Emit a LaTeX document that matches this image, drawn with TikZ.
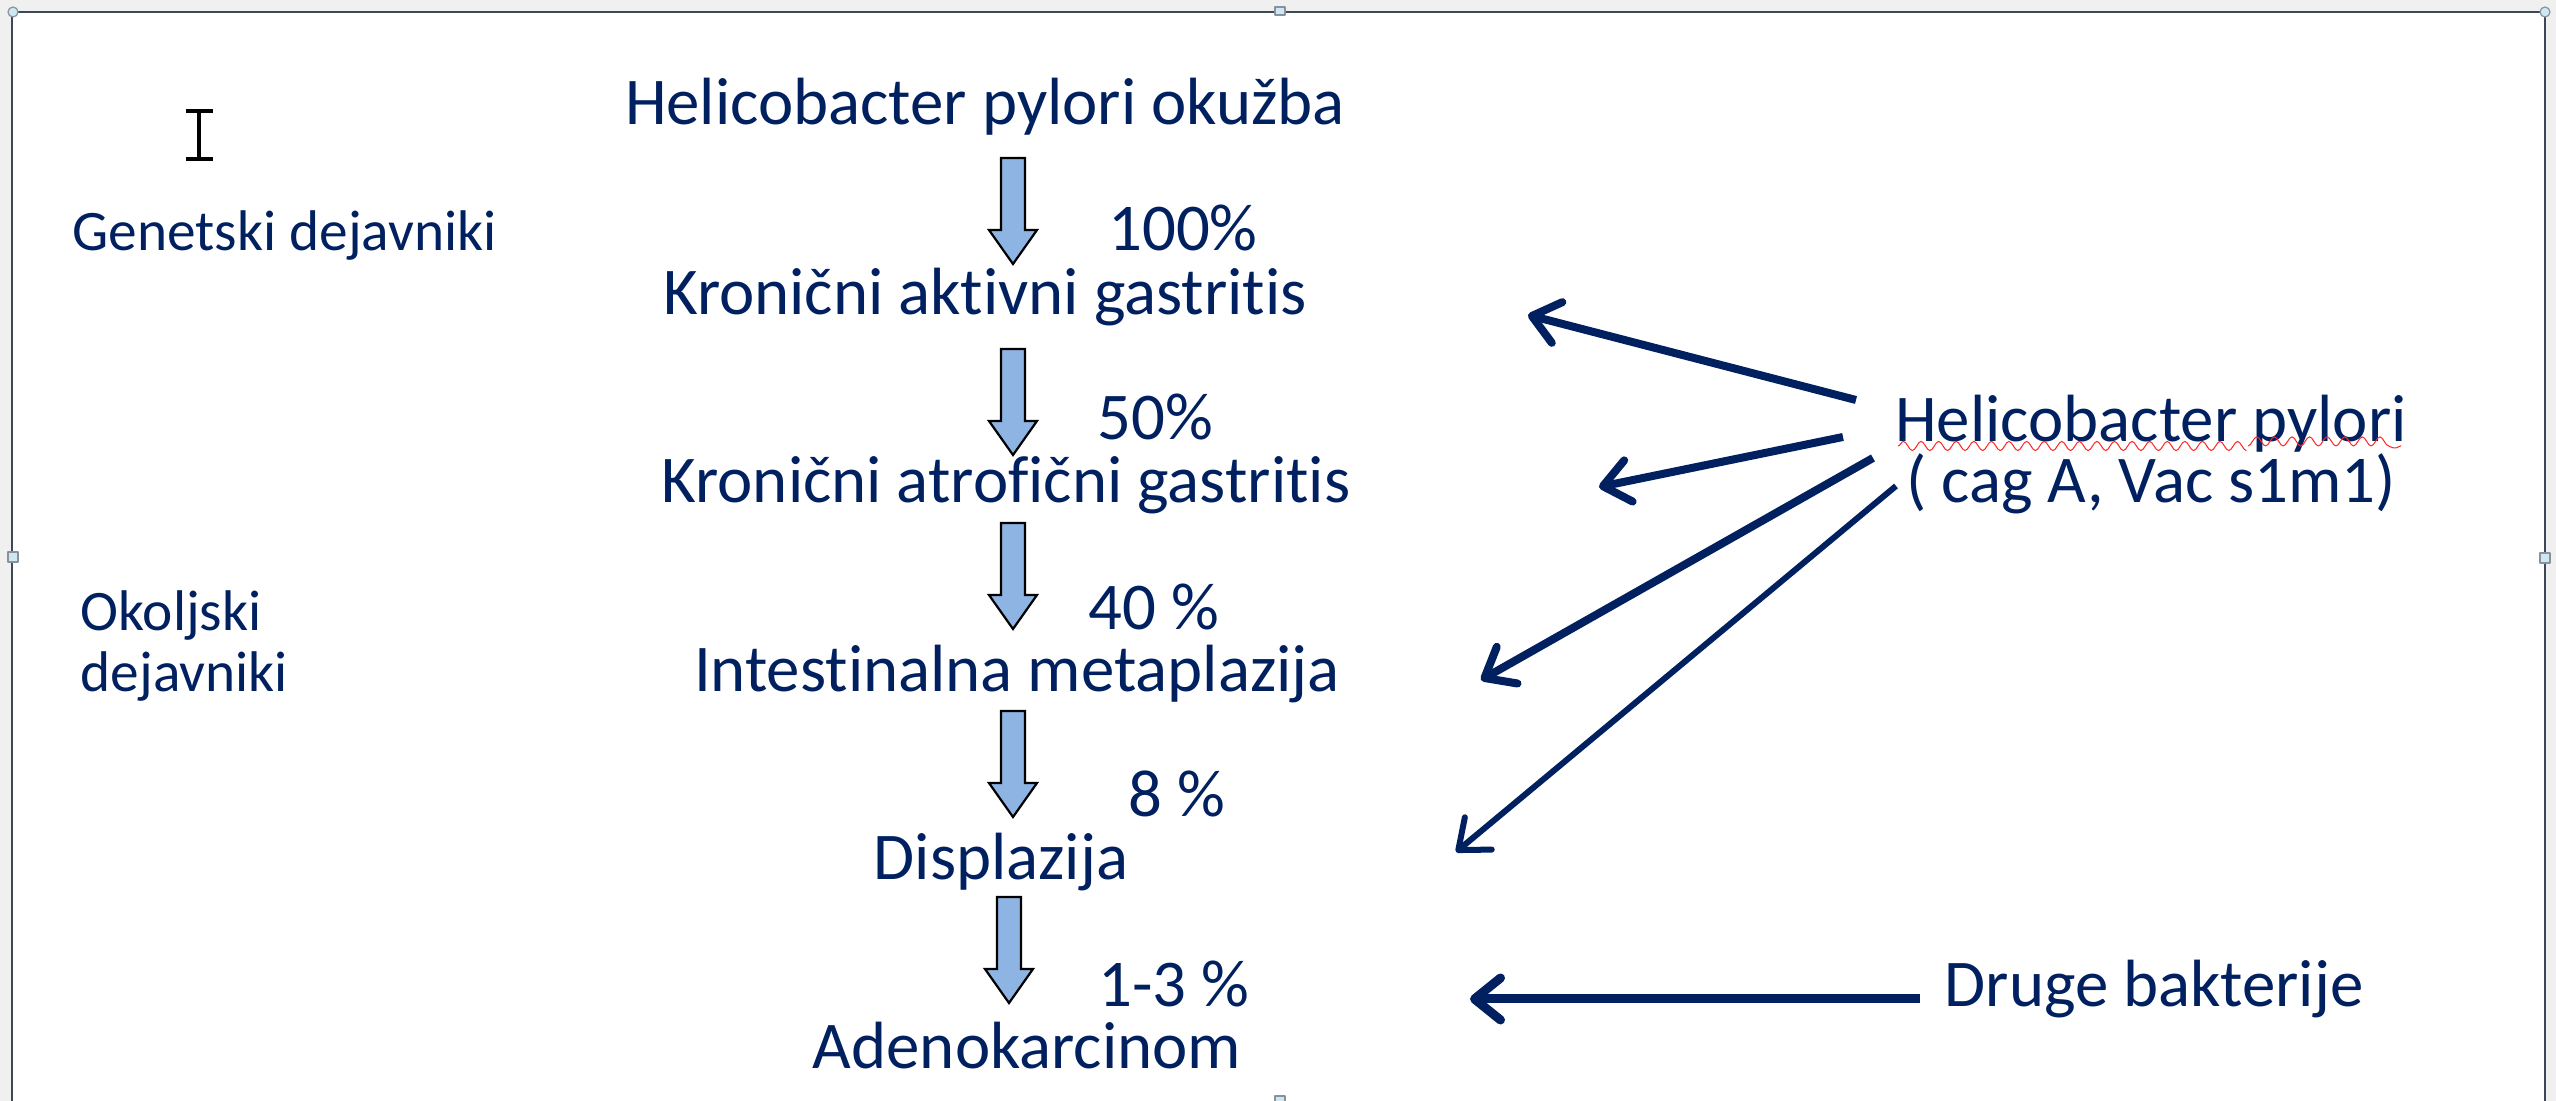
\documentclass[tikz,border=0pt]{standalone}
\usepackage{fontspec}
\setmainfont{Carlito}[Ligatures={NoCommon,NoContextual}]
\usetikzlibrary{arrows.meta,decorations.pathmorphing}

\definecolor{navy}{RGB}{0,32,96}
\definecolor{arrowfill}{RGB}{141,180,226}
\definecolor{winbg}{RGB}{240,240,240}
\definecolor{framecol}{RGB}{60,72,88}
\definecolor{handlecol}{RGB}{205,232,242}

\begin{document}
\begin{tikzpicture}[x=0.01cm,y=-0.01cm,line join=round,
  stage/.style={text=navy,font=\fontsize{19}{17.4}\selectfont,anchor=base,inner sep=0pt},
  factor/.style={text=navy,font=\fontsize{16.3}{17.6}\selectfont,anchor=base west,align=left,inner sep=0pt},
  hparrow/.style={draw=navy,line width=0.08cm,-{Straight Barb[length=0.26cm,width=0.42cm,round]}},
  handle/.style={draw=framecol!60,fill=handlecol,line width=0.012cm},
  blockarrow/.pic={\filldraw[draw=black,fill=arrowfill,line width=0.022cm,line join=miter]
    (-12,0) -- (12,0) -- (12,72) -- (24,72) -- (0,106) -- (-24,72) -- (-12,72) -- cycle;}]
\useasboundingbox (0,0) rectangle (2556,1101);
%
\begin{scope}
  \fill[winbg] (0,0) rectangle (2556,1101);
  \fill[white] (12,12) rectangle (2545,1110);
  \draw[framecol,line width=0.025cm] (12,1110) -- (12,12) -- (2545,12) -- (2545,1110);
  \draw[handle] (13,12) circle (5);
  \draw[handle] (2545,12) circle (5);
  \draw[handle] (1275,7) rectangle (1285,15);
  \draw[handle] (1275,1096) rectangle (1285,1104);
  \draw[handle] (8,552) rectangle (18,562);
  \draw[handle] (2540,553) rectangle (2550,563);
\end{scope}
  % cursor
  \draw[black,line width=0.045cm] (199,111) -- (199,159);
  \draw[black,line width=0.035cm] (186,111) -- (213,111) (186,159) -- (213,159);
%
  % Node: inf
  \node[stage] (inf) at (985,125) {Helicobacter pylori okužba};
  % Node: kag
  \node[stage] (kag) at (985,315) {Kronični aktivni gastritis};
  % Node: kat
  \node[stage] (kat) at (1006,503) {Kronični atrofični gastritis};
  % Node: im
  \node[stage] (im) at (1017,692) {Intestinalna metaplazija};
  % Node: dys
  \node[stage] (dys) at (1001,880) {Displazija};
  % Node: ca
  \node[stage] (ca) at (1027,1069) {Adenokarcinom};
%
  % Edge labels
  \node[stage] (p1) at (1183,251) {100\%};
  \node[stage] (p2) at (1155,440) {50\%};
  \node[stage] (p3) at (1154,630) {40 \%};
  \node[stage] (p4) at (1177,817) {8 \%};
  \node[stage] (p5) at (1174,1007) {1-3 \%};
%
  % Edge: inf -> kag -> kat -> im -> dys -> ca
  \pic at (1013,158) {blockarrow};
  \pic at (1013,349) {blockarrow};
  \pic at (1013,523) {blockarrow};
  \pic at (1013,711) {blockarrow};
  \pic at (1009,897) {blockarrow};
%
  % Node: gen, env
  \node[factor] (gen) at (72,251) {Genetski dejavniki};
  \node[factor] (env) at (80,692) {Okoljski\\dejavniki};
%
  % Node: hp
  \node[stage,align=center] (hp) at (2151,503) {Helicobacter pylori\\( cag A, Vac s1m1)};
  \draw[red!85,line width=0.01cm,decorate,decoration={snake,amplitude=1.3,segment length=5}]
    (1898,446) -- (2240,446) (2248,446) -- (2401,446);
  % Node: dru
  \node[stage] (dru) at (2154,1007) {Druge bakterije};
%
  \coordinate (a1) at (1856,400);  \coordinate (b1) at (1528,315);
  \coordinate (a2) at (1843,437);  \coordinate (b2) at (1599,487);
  \coordinate (a3) at (1873,458);  \coordinate (b3) at (1481,680);
  \coordinate (a4) at (1896,486);  \coordinate (b4) at (1456,852);
  \coordinate (a5) at (1920,999);  \coordinate (b5) at (1470,999);
  % Edge: hp -> kag, kat, im, dys
  \draw[hparrow] (a1) -- (b1);
  \draw[hparrow] (a2) -- (b2);
  \draw[hparrow] (a3) -- (b3);
  \draw[hparrow,line width=0.06cm] (a4) -- (b4);
  % Edge: dru -> ca
  \draw[hparrow,line width=0.09cm] (a5) -- (b5);
%
\end{tikzpicture}
\end{document}
